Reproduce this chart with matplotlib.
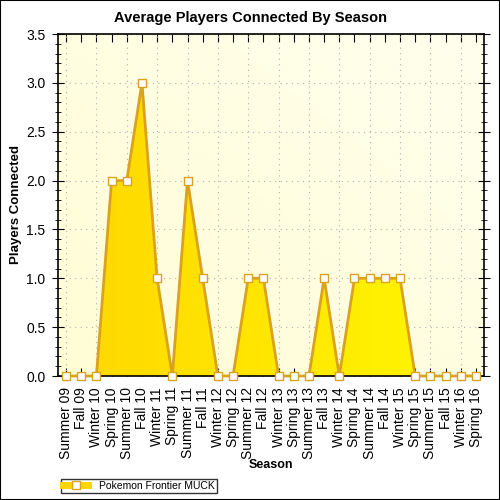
import numpy as np
import matplotlib
matplotlib.use('Agg')
import matplotlib.pyplot as plt
from matplotlib.lines import Line2D
from matplotlib.ticker import MultipleLocator

seasons = ['Summer 09', 'Fall 09', 'Winter 10', 'Spring 10', 'Summer 10', 'Fall 10',
           'Winter 11', 'Spring 11', 'Summer 11', 'Fall 11', 'Winter 12', 'Spring 12',
           'Summer 12', 'Fall 12', 'Winter 13', 'Spring 13', 'Summer 13', 'Fall 13',
           'Winter 14', 'Spring 14', 'Summer 14', 'Fall 14', 'Winter 15', 'Spring 15',
           'Summer 15', 'Fall 15', 'Winter 16', 'Spring 16']
players = [0, 0, 0, 2, 2, 3, 1, 0, 2, 1, 0, 0, 1, 1, 0, 0, 0, 1, 0, 1, 1, 1, 1, 0, 0, 0, 0, 0]
series_name = 'Pokemon Frontier MUCK'

edge = '#D9A21F'
x = np.arange(len(seasons))
font = 'Liberation Sans'

fig = plt.figure(figsize=(5, 5), dpi=100)
fig.patches.append(plt.Rectangle((0, 0), 1, 1, transform=fig.transFigure,
                                 fill=False, edgecolor='black', linewidth=1.5))
ax = fig.add_axes([0.116, 0.248, 0.852, 0.684])
ax.set_xlim(-0.53, len(seasons) - 1 + 0.53)
ax.set_ylim(0, 3.5)

# background gradient
gx, gy = np.meshgrid(np.linspace(0, 1, 200), np.linspace(0, 1, 200))
t = (gx + gy) / 2
bg = np.zeros((200, 200, 3))
bg[..., 0] = 1.0
bg[..., 1] = (253 + 2 * t) / 255
bg[..., 2] = (212 + 26 * t) / 255
ax.imshow(bg, extent=[0, 1, 0, 1], transform=ax.transAxes, origin='lower',
          aspect='auto', zorder=0)

ax.set_axisbelow(True)
ax.yaxis.grid(True, linestyle=(0, (1, 4)), color='#b0b0b0', linewidth=0.8, zorder=1)
ax.vlines(x[::2], 0, 3.5, linestyles=(0, (1, 4)), colors='#b0b0b0', linewidth=0.8, zorder=1)

# gradient filled area
poly = ax.fill_between(x, players, 0, facecolor='none', edgecolor='none', zorder=2)
grad = np.zeros((2, 300, 3))
tt = np.linspace(0, 1, 300)
grad[..., 0] = 1.0
grad[..., 1] = (215 + 32 * tt) / 255
grad[..., 2] = 0.0
img = ax.imshow(grad, extent=[x[0], x[-1], 0, 3.5], origin='lower', aspect='auto', zorder=2)
path = poly.get_paths()[0]
img.set_clip_path(path, transform=ax.transData)

ax.plot(x, players, color=edge, linewidth=2, marker='s', markersize=5.5,
        markerfacecolor='white', markeredgecolor=edge, markeredgewidth=1, zorder=3,
        clip_on=False)

ax.set_xticks(x)
ax.set_xticklabels(seasons, rotation=90, fontsize=10, family=font)
ax.yaxis.set_minor_locator(MultipleLocator(0.1))
ax.set_yticks(np.arange(0, 3.51, 0.5))
ax.set_yticklabels([f'{v:.1f}' for v in np.arange(0, 3.51, 0.5)], fontsize=10,
                   family=font)
ax.tick_params(axis='x', direction='in', length=6, top=True, pad=8)
ax.tick_params(axis='y', which='major', direction='inout', length=8, right=True, pad=5)
ax.tick_params(axis='y', which='minor', direction='inout', length=5, right=True)
for s in ax.spines.values():
    s.set_linewidth(1.2)

ax.set_xlabel('Season', fontsize=9, fontweight='bold', family=font, labelpad=0)
ax.set_ylabel('Players Connected', fontsize=9.5, fontweight='bold', family=font, labelpad=3)
fig.text(0.5, 0.964, 'Average Players Connected By Season', fontsize=10.5,
         fontweight='bold', family=font, ha='center', va='center')

handle = Line2D([], [], color='#FFD400', linewidth=5, marker='s', markersize=5.5,
                markerfacecolor='white', markeredgecolor=edge)
fig.legend([handle], [series_name], loc='lower left', bbox_to_anchor=(0.112, 0.004),
           frameon=True, fancybox=False, edgecolor='black',
           borderpad=0.2, handlelength=2.4, handletextpad=1.0,
           prop={'family': font, 'size': 7.5})

fig.savefig('out.png', dpi=100)
